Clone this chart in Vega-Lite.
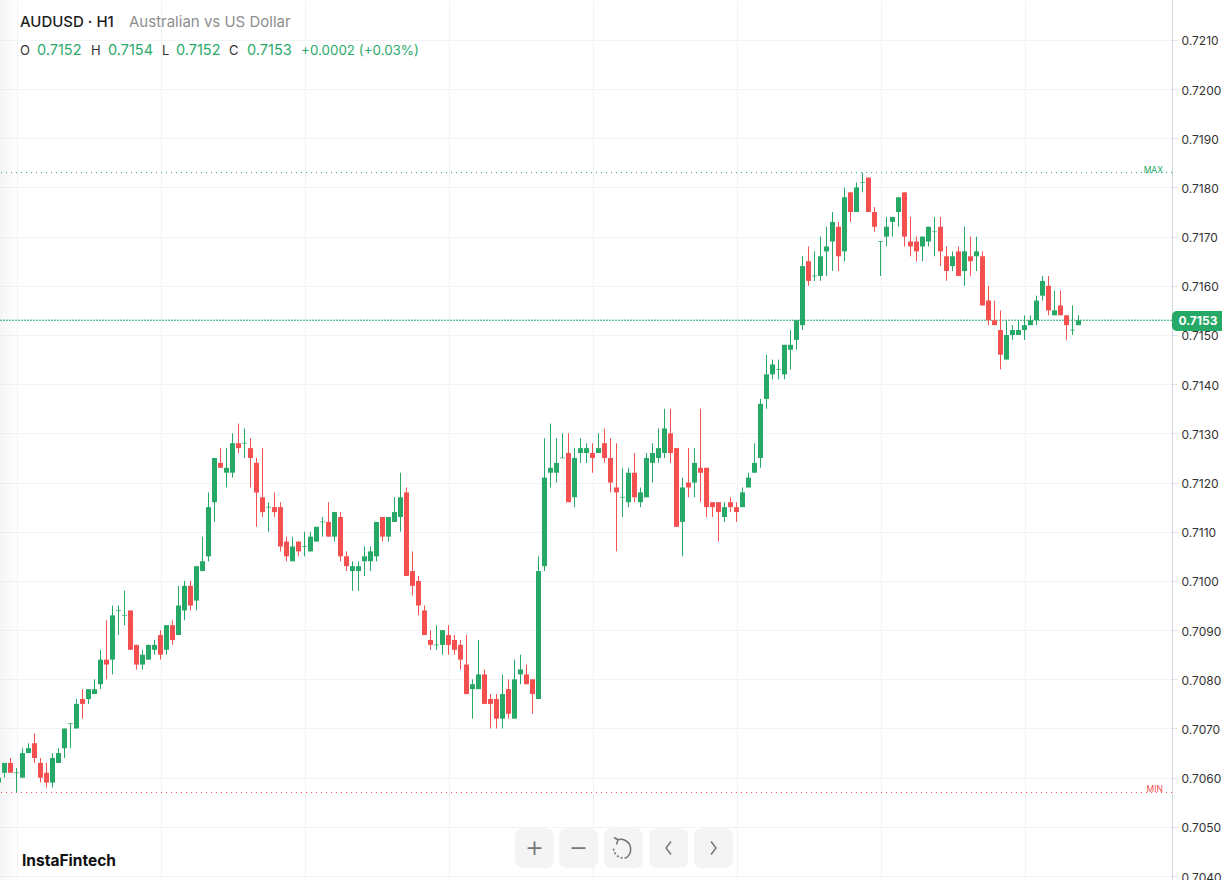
{
  "$schema": "https://vega.github.io/schema/vega-lite/v6.json",
  "description": "AUDUSD H1 candlestick chart",
  "width": 1172,
  "height": 880,
  "autosize": "none",
  "padding": {"left": 0, "top": 0, "right": 50, "bottom": 0},
  "background": "#ffffff",
  "config": {"view": {"stroke": null}, "text": {"font": "Inter"}},
  "datasets": {
    "levels": [
      {"level": "MAX", "price": 0.7183},
      {"level": "Current", "price": 0.7153},
      {"level": "MIN", "price": 0.7057}
    ],
    "candles": [
      {"bar":0,"open":0.7059,"high":0.7060,"low":0.7059,"close":0.7060},
      {"bar":1,"open":0.7061,"high":0.7063,"low":0.7060,"close":0.7063},
      {"bar":2,"open":0.7063,"high":0.7064,"low":0.7061,"close":0.7061},
      {"bar":3,"open":0.7061,"high":0.7062,"low":0.7057,"close":0.7061},
      {"bar":4,"open":0.7060,"high":0.7066,"low":0.7060,"close":0.7065},
      {"bar":5,"open":0.7065,"high":0.7067,"low":0.7065,"close":0.7066},
      {"bar":6,"open":0.7067,"high":0.7069,"low":0.7063,"close":0.7064},
      {"bar":7,"open":0.7063,"high":0.7064,"low":0.7059,"close":0.7060},
      {"bar":8,"open":0.7061,"high":0.7063,"low":0.7058,"close":0.7059},
      {"bar":9,"open":0.7059,"high":0.7065,"low":0.7058,"close":0.7064},
      {"bar":10,"open":0.7063,"high":0.7066,"low":0.7063,"close":0.7065},
      {"bar":11,"open":0.7066,"high":0.7070,"low":0.7064,"close":0.7070},
      {"bar":12,"open":0.7071,"high":0.7071,"low":0.7066,"close":0.7071},
      {"bar":13,"open":0.7070,"high":0.7076,"low":0.7070,"close":0.7075},
      {"bar":14,"open":0.7076,"high":0.7078,"low":0.7072,"close":0.7075},
      {"bar":15,"open":0.7076,"high":0.7078,"low":0.7075,"close":0.7078},
      {"bar":16,"open":0.7077,"high":0.7080,"low":0.7077,"close":0.7078},
      {"bar":17,"open":0.7079,"high":0.7086,"low":0.7078,"close":0.7084},
      {"bar":18,"open":0.7084,"high":0.7092,"low":0.7080,"close":0.7083},
      {"bar":19,"open":0.7084,"high":0.7095,"low":0.7081,"close":0.7093},
      {"bar":20,"open":0.7094,"high":0.7095,"low":0.7089,"close":0.7094},
      {"bar":21,"open":0.7093,"high":0.7098,"low":0.7091,"close":0.7093},
      {"bar":22,"open":0.7094,"high":0.7094,"low":0.7086,"close":0.7086},
      {"bar":23,"open":0.7087,"high":0.7087,"low":0.7082,"close":0.7083},
      {"bar":24,"open":0.7083,"high":0.7086,"low":0.7082,"close":0.7085},
      {"bar":25,"open":0.7084,"high":0.7087,"low":0.7084,"close":0.7087},
      {"bar":26,"open":0.7086,"high":0.7088,"low":0.7085,"close":0.7087},
      {"bar":27,"open":0.7089,"high":0.7090,"low":0.7084,"close":0.7085},
      {"bar":28,"open":0.7086,"high":0.7091,"low":0.7085,"close":0.7091},
      {"bar":29,"open":0.7091,"high":0.7092,"low":0.7087,"close":0.7088},
      {"bar":30,"open":0.7089,"high":0.7099,"low":0.7089,"close":0.7095},
      {"bar":31,"open":0.7094,"high":0.7100,"low":0.7092,"close":0.7099},
      {"bar":32,"open":0.7099,"high":0.7100,"low":0.7094,"close":0.7095},
      {"bar":33,"open":0.7096,"high":0.7103,"low":0.7094,"close":0.7103},
      {"bar":34,"open":0.7102,"high":0.7109,"low":0.7102,"close":0.7104},
      {"bar":35,"open":0.7105,"high":0.7118,"low":0.7104,"close":0.7115},
      {"bar":36,"open":0.7116,"high":0.7125,"low":0.7112,"close":0.7125},
      {"bar":37,"open":0.7124,"high":0.7127,"low":0.7123,"close":0.7123},
      {"bar":38,"open":0.7122,"high":0.7127,"low":0.7119,"close":0.7123},
      {"bar":39,"open":0.7122,"high":0.7130,"low":0.7121,"close":0.7128},
      {"bar":40,"open":0.7128,"high":0.7132,"low":0.7126,"close":0.7127},
      {"bar":41,"open":0.7128,"high":0.7131,"low":0.7125,"close":0.7128},
      {"bar":42,"open":0.7127,"high":0.7129,"low":0.7119,"close":0.7125},
      {"bar":43,"open":0.7124,"high":0.7125,"low":0.7111,"close":0.7118},
      {"bar":44,"open":0.7117,"high":0.7127,"low":0.7113,"close":0.7114},
      {"bar":45,"open":0.7115,"high":0.7116,"low":0.7110,"close":0.7115},
      {"bar":46,"open":0.7115,"high":0.7118,"low":0.7113,"close":0.7114},
      {"bar":47,"open":0.7115,"high":0.7116,"low":0.7106,"close":0.7107},
      {"bar":48,"open":0.7108,"high":0.7109,"low":0.7104,"close":0.7105},
      {"bar":49,"open":0.7104,"high":0.7109,"low":0.7104,"close":0.7107},
      {"bar":50,"open":0.7108,"high":0.7108,"low":0.7105,"close":0.7106},
      {"bar":51,"open":0.7107,"high":0.7110,"low":0.7105,"close":0.7107},
      {"bar":52,"open":0.7106,"high":0.7110,"low":0.7106,"close":0.7109},
      {"bar":53,"open":0.7108,"high":0.7111,"low":0.7108,"close":0.7111},
      {"bar":54,"open":0.7112,"high":0.7113,"low":0.7109,"close":0.7112},
      {"bar":55,"open":0.7112,"high":0.7116,"low":0.7109,"close":0.7109},
      {"bar":56,"open":0.7109,"high":0.7114,"low":0.7108,"close":0.7114},
      {"bar":57,"open":0.7113,"high":0.7114,"low":0.7104,"close":0.7105},
      {"bar":58,"open":0.7105,"high":0.7106,"low":0.7102,"close":0.7103},
      {"bar":59,"open":0.7102,"high":0.7104,"low":0.7098,"close":0.7103},
      {"bar":60,"open":0.7102,"high":0.7104,"low":0.7098,"close":0.7103},
      {"bar":61,"open":0.7104,"high":0.7107,"low":0.7101,"close":0.7105},
      {"bar":62,"open":0.7104,"high":0.7107,"low":0.7102,"close":0.7106},
      {"bar":63,"open":0.7105,"high":0.7112,"low":0.7104,"close":0.7112},
      {"bar":64,"open":0.7113,"high":0.7113,"low":0.7108,"close":0.7109},
      {"bar":65,"open":0.7109,"high":0.7113,"low":0.7108,"close":0.7113},
      {"bar":66,"open":0.7112,"high":0.7117,"low":0.7112,"close":0.7114},
      {"bar":67,"open":0.7113,"high":0.7122,"low":0.7110,"close":0.7117},
      {"bar":68,"open":0.7118,"high":0.7119,"low":0.7101,"close":0.7101},
      {"bar":69,"open":0.7102,"high":0.7106,"low":0.7097,"close":0.7099},
      {"bar":70,"open":0.7100,"high":0.7101,"low":0.7093,"close":0.7095},
      {"bar":71,"open":0.7094,"high":0.7095,"low":0.7089,"close":0.7089},
      {"bar":72,"open":0.7088,"high":0.7090,"low":0.7086,"close":0.7087},
      {"bar":73,"open":0.7087,"high":0.7091,"low":0.7086,"close":0.7087},
      {"bar":74,"open":0.7087,"high":0.7090,"low":0.7085,"close":0.7090},
      {"bar":75,"open":0.7089,"high":0.7091,"low":0.7085,"close":0.7087},
      {"bar":76,"open":0.7088,"high":0.7089,"low":0.7085,"close":0.7086},
      {"bar":77,"open":0.7087,"high":0.7088,"low":0.7082,"close":0.7084},
      {"bar":78,"open":0.7083,"high":0.7089,"low":0.7077,"close":0.7077},
      {"bar":79,"open":0.7078,"high":0.7080,"low":0.7072,"close":0.7079},
      {"bar":80,"open":0.7078,"high":0.7088,"low":0.7078,"close":0.7081},
      {"bar":81,"open":0.7081,"high":0.7082,"low":0.7075,"close":0.7075},
      {"bar":82,"open":0.7076,"high":0.7077,"low":0.7070,"close":0.7075},
      {"bar":83,"open":0.7076,"high":0.7077,"low":0.7070,"close":0.7072},
      {"bar":84,"open":0.7072,"high":0.7081,"low":0.7070,"close":0.7077},
      {"bar":85,"open":0.7078,"high":0.7080,"low":0.7072,"close":0.7073},
      {"bar":86,"open":0.7072,"high":0.7084,"low":0.7072,"close":0.7080},
      {"bar":87,"open":0.7081,"high":0.7085,"low":0.7079,"close":0.7082},
      {"bar":88,"open":0.7081,"high":0.7083,"low":0.7079,"close":0.7079},
      {"bar":89,"open":0.7080,"high":0.7080,"low":0.7073,"close":0.7077},
      {"bar":90,"open":0.7076,"high":0.7105,"low":0.7076,"close":0.7102},
      {"bar":91,"open":0.7103,"high":0.7129,"low":0.7102,"close":0.7121},
      {"bar":92,"open":0.7122,"high":0.7132,"low":0.7119,"close":0.7123},
      {"bar":93,"open":0.7122,"high":0.7129,"low":0.7120,"close":0.7124},
      {"bar":94,"open":0.7125,"high":0.7130,"low":0.7125,"close":0.7125},
      {"bar":95,"open":0.7126,"high":0.7130,"low":0.7116,"close":0.7116},
      {"bar":96,"open":0.7117,"high":0.7127,"low":0.7115,"close":0.7125},
      {"bar":97,"open":0.7126,"high":0.7129,"low":0.7124,"close":0.7127},
      {"bar":98,"open":0.7126,"high":0.7128,"low":0.7124,"close":0.7127},
      {"bar":99,"open":0.7126,"high":0.7128,"low":0.7122,"close":0.7125},
      {"bar":100,"open":0.7126,"high":0.7130,"low":0.7126,"close":0.7127},
      {"bar":101,"open":0.7128,"high":0.7131,"low":0.7124,"close":0.7125},
      {"bar":102,"open":0.7125,"high":0.7129,"low":0.7118,"close":0.7120},
      {"bar":103,"open":0.7119,"high":0.7128,"low":0.7106,"close":0.7118},
      {"bar":104,"open":0.7117,"high":0.7123,"low":0.7113,"close":0.7117},
      {"bar":105,"open":0.7116,"high":0.7123,"low":0.7115,"close":0.7122},
      {"bar":106,"open":0.7122,"high":0.7126,"low":0.7116,"close":0.7117},
      {"bar":107,"open":0.7116,"high":0.7119,"low":0.7115,"close":0.7118},
      {"bar":108,"open":0.7117,"high":0.7126,"low":0.7117,"close":0.7125},
      {"bar":109,"open":0.7124,"high":0.7128,"low":0.7120,"close":0.7126},
      {"bar":110,"open":0.7125,"high":0.7131,"low":0.7124,"close":0.7127},
      {"bar":111,"open":0.7126,"high":0.7135,"low":0.7125,"close":0.7131},
      {"bar":112,"open":0.7130,"high":0.7135,"low":0.7124,"close":0.7126},
      {"bar":113,"open":0.7127,"high":0.7127,"low":0.7111,"close":0.7111},
      {"bar":114,"open":0.7112,"high":0.7121,"low":0.7105,"close":0.7119},
      {"bar":115,"open":0.7120,"high":0.7127,"low":0.7117,"close":0.7119},
      {"bar":116,"open":0.7120,"high":0.7127,"low":0.7117,"close":0.7124},
      {"bar":117,"open":0.7123,"high":0.7135,"low":0.7116,"close":0.7122},
      {"bar":118,"open":0.7123,"high":0.7123,"low":0.7113,"close":0.7115},
      {"bar":119,"open":0.7116,"high":0.7116,"low":0.7113,"close":0.7115},
      {"bar":120,"open":0.7116,"high":0.7116,"low":0.7108,"close":0.7114},
      {"bar":121,"open":0.7113,"high":0.7116,"low":0.7112,"close":0.7115},
      {"bar":122,"open":0.7116,"high":0.7117,"low":0.7114,"close":0.7115},
      {"bar":123,"open":0.7115,"high":0.7116,"low":0.7112,"close":0.7114},
      {"bar":124,"open":0.7115,"high":0.7119,"low":0.7115,"close":0.7118},
      {"bar":125,"open":0.7119,"high":0.7122,"low":0.7119,"close":0.7121},
      {"bar":126,"open":0.7122,"high":0.7128,"low":0.7122,"close":0.7124},
      {"bar":127,"open":0.7125,"high":0.7137,"low":0.7123,"close":0.7136},
      {"bar":128,"open":0.7137,"high":0.7146,"low":0.7135,"close":0.7142},
      {"bar":129,"open":0.7142,"high":0.7145,"low":0.7141,"close":0.7144},
      {"bar":130,"open":0.7143,"high":0.7145,"low":0.7141,"close":0.7143},
      {"bar":131,"open":0.7142,"high":0.7148,"low":0.7141,"close":0.7148},
      {"bar":132,"open":0.7147,"high":0.7151,"low":0.7143,"close":0.7148},
      {"bar":133,"open":0.7149,"high":0.7153,"low":0.7147,"close":0.7153},
      {"bar":134,"open":0.7152,"high":0.7166,"low":0.7151,"close":0.7164},
      {"bar":135,"open":0.7165,"high":0.7168,"low":0.7160,"close":0.7161},
      {"bar":136,"open":0.7162,"high":0.7167,"low":0.7161,"close":0.7162},
      {"bar":137,"open":0.7162,"high":0.7170,"low":0.7161,"close":0.7166},
      {"bar":138,"open":0.7167,"high":0.7172,"low":0.7162,"close":0.7168},
      {"bar":139,"open":0.7169,"high":0.7175,"low":0.7163,"close":0.7173},
      {"bar":140,"open":0.7172,"high":0.7173,"low":0.7163,"close":0.7166},
      {"bar":141,"open":0.7167,"high":0.7180,"low":0.7165,"close":0.7178},
      {"bar":142,"open":0.7179,"high":0.7179,"low":0.7173,"close":0.7175},
      {"bar":143,"open":0.7175,"high":0.7181,"low":0.7175,"close":0.7180},
      {"bar":144,"open":0.7181,"high":0.7183,"low":0.7179,"close":0.7181},
      {"bar":145,"open":0.7182,"high":0.7182,"low":0.7175,"close":0.7175},
      {"bar":146,"open":0.7175,"high":0.7176,"low":0.7171,"close":0.7172},
      {"bar":147,"open":0.7169,"high":0.7169,"low":0.7162,"close":0.7169},
      {"bar":148,"open":0.7170,"high":0.7174,"low":0.7168,"close":0.7172},
      {"bar":149,"open":0.7173,"high":0.7174,"low":0.7170,"close":0.7174},
      {"bar":150,"open":0.7175,"high":0.7178,"low":0.7172,"close":0.7178},
      {"bar":151,"open":0.7179,"high":0.7179,"low":0.7168,"close":0.7170},
      {"bar":152,"open":0.7169,"high":0.7174,"low":0.7166,"close":0.7168},
      {"bar":153,"open":0.7169,"high":0.7170,"low":0.7165,"close":0.7167},
      {"bar":154,"open":0.7168,"high":0.7170,"low":0.7165,"close":0.7170},
      {"bar":155,"open":0.7169,"high":0.7172,"low":0.7168,"close":0.7172},
      {"bar":156,"open":0.7171,"high":0.7174,"low":0.7166,"close":0.7171},
      {"bar":157,"open":0.7172,"high":0.7174,"low":0.7164,"close":0.7167},
      {"bar":158,"open":0.7166,"high":0.7168,"low":0.7161,"close":0.7163},
      {"bar":159,"open":0.7164,"high":0.7167,"low":0.7163,"close":0.7166},
      {"bar":160,"open":0.7167,"high":0.7168,"low":0.7162,"close":0.7162},
      {"bar":161,"open":0.7163,"high":0.7172,"low":0.7160,"close":0.7167},
      {"bar":162,"open":0.7166,"high":0.7170,"low":0.7162,"close":0.7165},
      {"bar":163,"open":0.7166,"high":0.7170,"low":0.7163,"close":0.7167},
      {"bar":164,"open":0.7166,"high":0.7167,"low":0.7156,"close":0.7156},
      {"bar":165,"open":0.7157,"high":0.7160,"low":0.7152,"close":0.7153},
      {"bar":166,"open":0.7153,"high":0.7157,"low":0.7152,"close":0.7152},
      {"bar":167,"open":0.7151,"high":0.7155,"low":0.7143,"close":0.7146},
      {"bar":168,"open":0.7145,"high":0.7153,"low":0.7145,"close":0.7150},
      {"bar":169,"open":0.7150,"high":0.7152,"low":0.7149,"close":0.7151},
      {"bar":170,"open":0.7150,"high":0.7153,"low":0.7150,"close":0.7151},
      {"bar":171,"open":0.7151,"high":0.7154,"low":0.7149,"close":0.7152},
      {"bar":172,"open":0.7152,"high":0.7154,"low":0.7152,"close":0.7153},
      {"bar":173,"open":0.7153,"high":0.7158,"low":0.7152,"close":0.7157},
      {"bar":174,"open":0.7158,"high":0.7162,"low":0.7157,"close":0.7161},
      {"bar":175,"open":0.7160,"high":0.7162,"low":0.7154,"close":0.7155},
      {"bar":176,"open":0.7154,"high":0.7159,"low":0.7154,"close":0.7155},
      {"bar":177,"open":0.7156,"high":0.7159,"low":0.7154,"close":0.7154},
      {"bar":178,"open":0.7154,"high":0.7154,"low":0.7149,"close":0.7152},
      {"bar":179,"open":0.7151,"high":0.7156,"low":0.7150,"close":0.7151},
      {"bar":180,"open":0.7152,"high":0.7154,"low":0.7152,"close":0.7153}
    ]
  },
  "layer": [
    {
      "data": {"values": [{"edge": 0.25, "fade": 3}]},
      "mark": {"type": "rect", "fill": {"gradient": "linear", "x1": 0, "x2": 1, "y1": 0, "y2": 0, "stops": [{"offset": 0, "color": "rgba(0,0,0,0.045)"}, {"offset": 1, "color": "rgba(0,0,0,0)"}]}},
      "encoding": {
        "x": {
          "field": "edge",
          "type": "quantitative",
          "scale": {"domain": [0.25, 195.583], "nice": false, "zero": false, "padding": 0},
          "axis": {"title": null, "values": [3, 27, 51, 75, 99, 123, 147, 171], "labels": false, "ticks": false, "domain": false, "grid": true, "gridColor": "#f1f2f6", "gridWidth": 1}
        },
        "x2": {"field": "fade"}
      }
    },
    {
      "data": {"name": "levels"},
      "transform": [{"filter": "datum.level == 'MAX'"}],
      "mark": {"type": "rule", "stroke": "#26a866", "strokeWidth": 1, "strokeDash": [1, 4]},
      "encoding": {
        "y": {
          "field": "price",
          "type": "quantitative",
          "scale": {"domain": [0.70392, 0.72181], "nice": false, "zero": false, "padding": 0},
          "axis": {
            "title": null,
            "orient": "right",
            "values": [0.704, 0.705, 0.706, 0.707, 0.708, 0.709, 0.71, 0.711, 0.712, 0.713, 0.714, 0.715, 0.716, 0.717, 0.718, 0.719, 0.72, 0.721],
            "format": ".4f",
            "grid": true,
            "gridColor": "#f2f3f5",
            "gridWidth": 1,
            "domainColor": "#cfd6e1",
            "tickColor": "#dfe3ea",
            "tickSize": 5,
            "labelPadding": 4,
            "labelOffset": 1,
            "labelFont": "Inter",
            "labelFontSize": 12,
            "labelColor": "#333333",
            "labelOverlap": false,
            "labelBound": false,
            "labelFlush": false
          }
        }
      }
    },
    {
      "data": {"name": "levels"},
      "transform": [{"filter": "datum.level == 'MIN'"}],
      "mark": {"type": "rule", "stroke": "#f45050", "strokeWidth": 1, "strokeDash": [1, 4]},
      "encoding": {"y": {"field": "price", "type": "quantitative", "title": null}}
    },
    {
      "data": {"name": "levels"},
      "transform": [{"filter": "datum.level == 'Current'"}],
      "mark": {"type": "rule", "stroke": "#26a866", "strokeWidth": 1, "strokeDash": [2, 1]},
      "encoding": {"y": {"field": "price", "type": "quantitative", "title": null}}
    },
    {
      "data": {"name": "candles"},
      "encoding": {
        "x": {"field": "bar", "type": "quantitative", "title": null},
        "color": {"condition": {"test": "datum.close >= datum.open", "value": "#26a866"}, "value": "#f45050"}
      },
      "layer": [
        {
          "mark": {"type": "rule", "strokeWidth": 1},
          "encoding": {
            "y": {"field": "low", "type": "quantitative", "title": null},
            "y2": {"field": "high"}
          }
        },
        {
          "mark": {"type": "bar", "size": 5},
          "encoding": {
            "y": {"field": "open", "type": "quantitative", "title": null},
            "y2": {"field": "close"}
          }
        },
        {
          "transform": [{"filter": "datum.open == datum.close"}],
          "mark": {"type": "tick", "orient": "horizontal", "size": 5, "thickness": 1},
          "encoding": {"y": {"field": "close", "type": "quantitative", "title": null}}
        }
      ]
    },
    {
      "data": {"values": [{"label": "AUDUSD · H1"}]},
      "mark": {"type": "text", "align": "left", "baseline": "middle", "fontSize": 15, "fontWeight": 500, "color": "#1e1e1e"},
      "encoding": {"x": {"datum": 3.58}, "y": {"datum": 0.72136}, "text": {"field": "label"}}
    },
    {
      "data": {"values": [{"label": "Australian vs US Dollar"}]},
      "mark": {"type": "text", "align": "left", "baseline": "middle", "fontSize": 15, "color": "#8e8e8e"},
      "encoding": {"x": {"datum": 21.75}, "y": {"datum": 0.72136}, "text": {"field": "label"}}
    },
    {
      "data": {"values": [{"label": "O"}]},
      "mark": {"type": "text", "align": "left", "baseline": "middle", "fontSize": 13, "color": "#333333"},
      "encoding": {"x": {"datum": 3.58}, "y": {"datum": 0.72077}, "text": {"field": "label"}}
    },
    {
      "data": {"values": [{"label": "0.7152"}]},
      "mark": {"type": "text", "align": "left", "baseline": "middle", "fontSize": 14.5, "color": "#2aa96a"},
      "encoding": {"x": {"datum": 6.42}, "y": {"datum": 0.72077}, "text": {"field": "label"}}
    },
    {
      "data": {"values": [{"label": "H"}]},
      "mark": {"type": "text", "align": "left", "baseline": "middle", "fontSize": 13, "color": "#333333"},
      "encoding": {"x": {"datum": 15.42}, "y": {"datum": 0.72077}, "text": {"field": "label"}}
    },
    {
      "data": {"values": [{"label": "0.7154"}]},
      "mark": {"type": "text", "align": "left", "baseline": "middle", "fontSize": 14.5, "color": "#2aa96a"},
      "encoding": {"x": {"datum": 18.25}, "y": {"datum": 0.72077}, "text": {"field": "label"}}
    },
    {
      "data": {"values": [{"label": "L"}]},
      "mark": {"type": "text", "align": "left", "baseline": "middle", "fontSize": 13, "color": "#333333"},
      "encoding": {"x": {"datum": 27.25}, "y": {"datum": 0.72077}, "text": {"field": "label"}}
    },
    {
      "data": {"values": [{"label": "0.7152"}]},
      "mark": {"type": "text", "align": "left", "baseline": "middle", "fontSize": 14.5, "color": "#2aa96a"},
      "encoding": {"x": {"datum": 29.58}, "y": {"datum": 0.72077}, "text": {"field": "label"}}
    },
    {
      "data": {"values": [{"label": "C"}]},
      "mark": {"type": "text", "align": "left", "baseline": "middle", "fontSize": 13, "color": "#333333"},
      "encoding": {"x": {"datum": 38.42}, "y": {"datum": 0.72077}, "text": {"field": "label"}}
    },
    {
      "data": {"values": [{"label": "0.7153"}]},
      "mark": {"type": "text", "align": "left", "baseline": "middle", "fontSize": 14.5, "color": "#2aa96a"},
      "encoding": {"x": {"datum": 41.42}, "y": {"datum": 0.72077}, "text": {"field": "label"}}
    },
    {
      "data": {"values": [{"label": "+0.0002 (+0.03%)"}]},
      "mark": {"type": "text", "align": "left", "baseline": "middle", "fontSize": 13.4, "color": "#2aa96a"},
      "encoding": {"x": {"datum": 50.42}, "y": {"datum": 0.72077}, "text": {"field": "label"}}
    },
    {
      "data": {"values": [{"label": "MAX"}]},
      "mark": {"type": "text", "align": "right", "baseline": "middle", "fontSize": 8.5, "color": "#26a866"},
      "encoding": {"x": {"datum": 194.08}, "y": {"datum": 0.71836}, "text": {"field": "label"}}
    },
    {
      "data": {"values": [{"label": "MIN"}]},
      "mark": {"type": "text", "align": "right", "baseline": "middle", "fontSize": 8.5, "color": "#f45050"},
      "encoding": {"x": {"datum": 194.08}, "y": {"datum": 0.70577}, "text": {"field": "label"}}
    },
    {
      "data": {"values": [{"label": "0.7153"}]},
      "layer": [
        {
          "mark": {"type": "rect", "color": "#26a866", "cornerRadiusTopLeft": 5, "cornerRadiusBottomLeft": 5},
          "encoding": {"x": {"datum": 195.58}, "x2": {"datum": 203.92}, "y": {"datum": 0.71549}, "y2": {"datum": 0.71508}}
        },
        {
          "mark": {"type": "text", "align": "center", "baseline": "middle", "fontSize": 12, "fontWeight": 700, "color": "#ffffff"},
          "encoding": {"x": {"datum": 199.9}, "y": {"datum": 0.71529}, "text": {"field": "label"}}
        }
      ]
    },
    {
      "data": {"values": [{"label": "InstaFintech"}]},
      "mark": {"type": "text", "align": "left", "baseline": "middle", "fontSize": 15.5, "fontWeight": 700, "color": "#111111"},
      "encoding": {"x": {"datum": 3.92}, "y": {"datum": 0.7043}, "text": {"field": "label"}}
    },
    {
      "data": {"values": [{"label": "+"}]},
      "layer": [
        {"mark": {"type": "rect", "color": "#f4f4f4", "cornerRadius": 8}, "encoding": {"x": {"datum": 86.08}, "x2": {"datum": 92.58}, "y": {"datum": 0.70497}, "y2": {"datum": 0.70416}}},
        {"mark": {"type": "text", "align": "center", "baseline": "middle", "fontSize": 22, "font": "DejaVu Sans", "color": "#777777"}, "encoding": {"x": {"datum": 89.33}, "y": {"datum": 0.70457}, "text": {"field": "label"}}}
      ]
    },
    {
      "data": {"values": [{"label": "−"}]},
      "layer": [
        {"mark": {"type": "rect", "color": "#f4f4f4", "cornerRadius": 8}, "encoding": {"x": {"datum": 93.42}, "x2": {"datum": 99.92}, "y": {"datum": 0.70497}, "y2": {"datum": 0.70416}}},
        {"mark": {"type": "text", "align": "center", "baseline": "middle", "fontSize": 22, "font": "DejaVu Sans", "color": "#777777"}, "encoding": {"x": {"datum": 96.67}, "y": {"datum": 0.70457}, "text": {"field": "label"}}}
      ]
    },
    {
      "data": {"values": [{"button": "reset"}]},
      "layer": [
        {"mark": {"type": "rect", "color": "#f4f4f4", "cornerRadius": 8}, "encoding": {"x": {"datum": 100.92}, "x2": {"datum": 107.42}, "y": {"datum": 0.70497}, "y2": {"datum": 0.70416}}},
        {"mark": {"type": "point", "filled": false, "opacity": 1, "size": 400, "strokeWidth": 1.5, "color": "#707070", "shape": "M-0.55 -0.83 A1 1 0 0 1 0.3 0.95 M-0.95 -1.05 L-0.55 -0.83 L-0.7 -0.35"}, "encoding": {"x": {"datum": 104.17}, "y": {"datum": 0.70457}}},
        {"mark": {"type": "point", "filled": false, "opacity": 1, "size": 400, "strokeWidth": 1.5, "strokeDash": [2, 2], "color": "#707070", "shape": "M0.3 0.95 A1 1 0 0 1 -1 0"}, "encoding": {"x": {"datum": 104.17}, "y": {"datum": 0.70457}}}
      ]
    },
    {
      "data": {"values": [{"button": "back"}]},
      "layer": [
        {"mark": {"type": "rect", "color": "#f4f4f4", "cornerRadius": 8}, "encoding": {"x": {"datum": 108.42}, "x2": {"datum": 114.92}, "y": {"datum": 0.70497}, "y2": {"datum": 0.70416}}},
        {"mark": {"type": "point", "filled": false, "opacity": 1, "size": 400, "strokeWidth": 1.5, "color": "#777777", "shape": "M0.25 -0.65 L-0.25 0 L0.25 0.65"}, "encoding": {"x": {"datum": 111.67}, "y": {"datum": 0.70457}}}
      ]
    },
    {
      "data": {"values": [{"button": "forward"}]},
      "layer": [
        {"mark": {"type": "rect", "color": "#f4f4f4", "cornerRadius": 8}, "encoding": {"x": {"datum": 115.92}, "x2": {"datum": 122.42}, "y": {"datum": 0.70497}, "y2": {"datum": 0.70416}}},
        {"mark": {"type": "point", "filled": false, "opacity": 1, "size": 400, "strokeWidth": 1.5, "color": "#777777", "shape": "M-0.25 -0.65 L0.25 0 L-0.25 0.65"}, "encoding": {"x": {"datum": 119.17}, "y": {"datum": 0.70457}}}
      ]
    }
  ]
}
